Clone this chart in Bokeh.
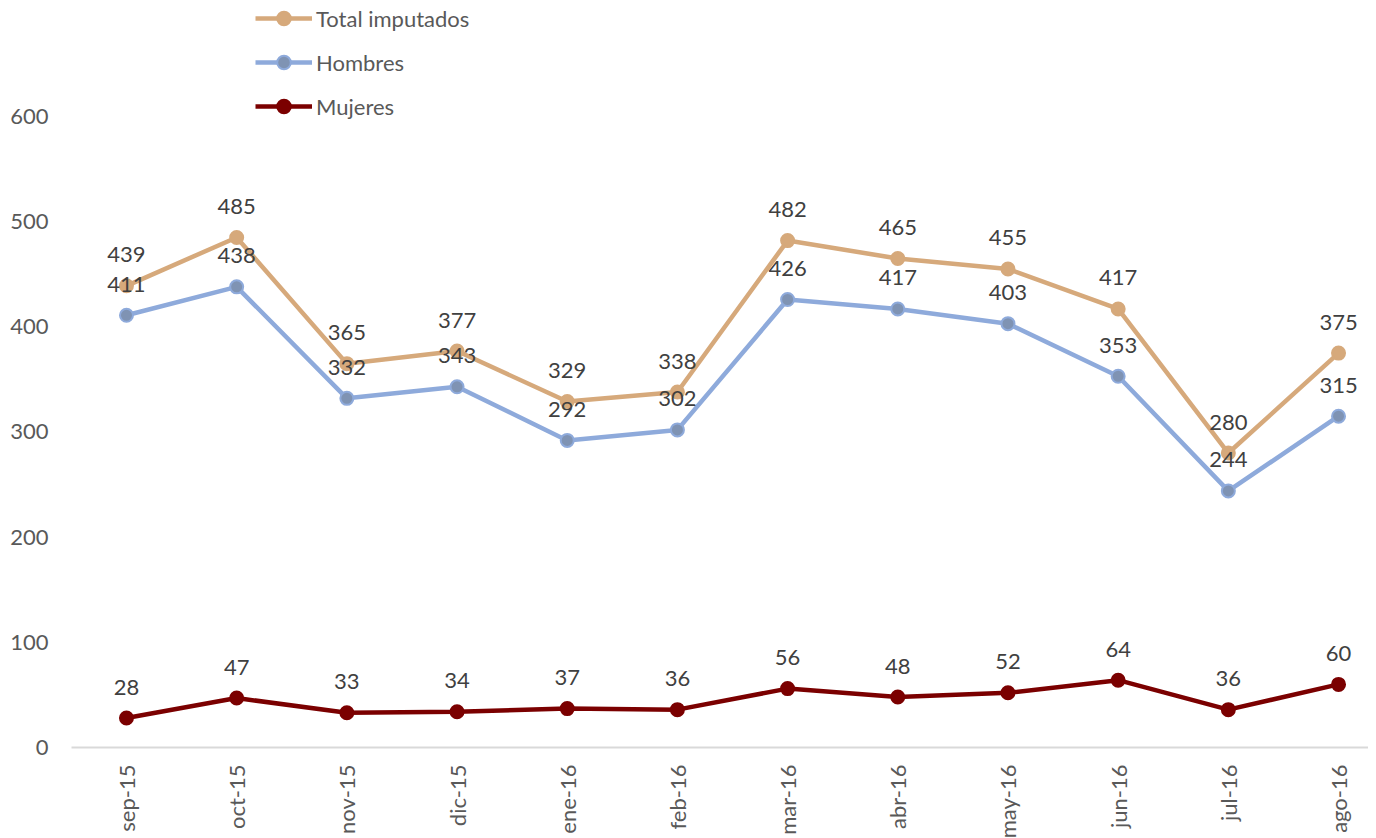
from bokeh.plotting import figure
from bokeh.models import Range1d, FixedTicker, Legend, LegendItem, ColumnDataSource
from bokeh.core.properties import value
from bokeh.embed import file_html
from bokeh.resources import INLINE
import math

months = ["sep-15", "oct-15", "nov-15", "dic-15", "ene-16", "feb-16",
          "mar-16", "abr-16", "may-16", "jun-16", "jul-16", "ago-16"]
total = [439, 485, 365, 377, 329, 338, 482, 465, 455, 417, 280, 375]
hombres = [411, 438, 332, 343, 292, 302, 426, 417, 403, 353, 244, 315]
mujeres = [28, 47, 33, 34, 37, 36, 56, 48, 52, 64, 36, 60]
y_ticks = [0, 100, 200, 300, 400, 500, 600]

FONT = "Lato"
FS = "22px"

xs = list(range(len(months)))

p = figure(frame_width=1297, frame_height=747, min_border_left=71, min_border_right=0,
           min_border_top=0, min_border_bottom=84,
           x_range=Range1d(-0.499, 11.272), y_range=Range1d(0, 710.3),
           output_backend="svg", toolbar_location=None)
p.outline_line_color = None
p.xgrid.visible = False
p.ygrid.visible = False
p.background_fill_color = "white"
p.border_fill_color = "white"

series = [
    ("Total imputados", total, "#D6A97B", "#D6A97B", "#D6A97B"),
    ("Hombres", hombres, "#8EAADB", "#7F93B3", "#8EAADB"),
    ("Mujeres", mujeres, "#7B0000", "#7B0000", "#7B0000"),
]

items = []
label_sources = []
for name, vals, lc, mf, ml in series:
    src = ColumnDataSource(dict(x=xs, y=vals, t=[str(v) for v in vals]))
    ln = p.line("x", "y", source=src, line_color=lc, line_width=4.5)
    sc = p.scatter("x", "y", source=src, size=13, fill_color=mf, line_color=ml, line_width=2)
    items.append(LegendItem(label=name, renderers=[ln, sc]))
    label_sources.append(src)

for src in label_sources:
    p.text("x", "y", text="t", source=src, text_align="center", text_baseline="middle",
           y_offset=-31, text_font=value(FONT), text_font_size=FS, text_color="#404040")

legend = Legend(items=items, location=(184, 624), orientation="vertical")
legend.glyph_width = 57
legend.glyph_height = 34
legend.label_height = 24
legend.spacing = 10
legend.padding = 0
legend.margin = 0
legend.label_standoff = 4
legend.border_line_color = None
legend.background_fill_alpha = 0
legend.label_text_font = FONT
legend.label_text_font_size = FS
legend.label_text_color = "#595959"
p.add_layout(legend)

p.xaxis.ticker = FixedTicker(ticks=xs)
p.xaxis.major_label_overrides = {i: m for i, m in enumerate(months)}
p.xaxis.major_label_orientation = math.pi / 2
p.xaxis.axis_line_color = "#D9D9D9"
p.xaxis.axis_line_width = 2
p.xaxis.major_tick_line_color = None
p.xaxis.minor_tick_line_color = None
p.xaxis.major_tick_out = 0
p.xaxis.major_tick_in = 0
p.xaxis.major_label_standoff = 17
p.xaxis.major_label_text_font = FONT
p.xaxis.major_label_text_font_size = FS
p.xaxis.major_label_text_color = "#595959"

p.yaxis.ticker = FixedTicker(ticks=y_ticks)
p.yaxis.axis_line_color = None
p.yaxis.major_tick_line_color = None
p.yaxis.minor_tick_line_color = None
p.yaxis.major_tick_out = 0
p.yaxis.major_tick_in = 0
p.yaxis.major_label_standoff = 23
p.yaxis.major_label_text_font = FONT
p.yaxis.major_label_text_font_size = FS
p.yaxis.major_label_text_color = "#595959"

open("out.html", "w").write(file_html(p, INLINE))
